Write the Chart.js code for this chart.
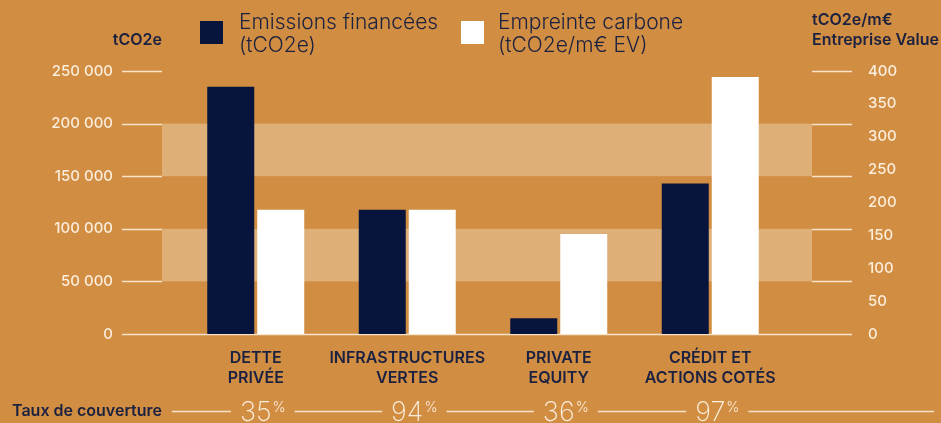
<!DOCTYPE html>
<html>
<head>
<meta charset="utf-8">
<script src="https://cdn.jsdelivr.net/npm/chart.js"></script>
<style>
  html, body { margin: 0; padding: 0; background: #D18D41; }
  canvas { display: block; }
</style>
</head>
<body>
<canvas id="myChart" width="941" height="423"></canvas>
<script>
// categories (two lines each)
const categories = [['DETTE', 'PRIVÉE'], ['INFRASTRUCTURES', 'VERTES'], ['PRIVATE', 'EQUITY'], ['CRÉDIT ET', 'ACTIONS COTÉS']]
// financed emissions, tCO2e (left axis)
const emissions = [235000, 118000, 15000, 143000]
// carbon footprint, tCO2e/m€ EV (right axis)
const footprint = [189, 189, 152, 391]
// coverage rate, %
const coverage = [35, 94, 36, 97]

const emissionsLegend = ['Emissions financées', '(tCO2e)']
const footprintLegend = ['Empreinte carbone', '(tCO2e/m€ EV)']
const leftTitle = ['tCO2e']
const rightTitle = ['tCO2e/m€', 'Entreprise Value']
const coverageTitle = 'Taux de couverture'

const leftMax = 250000
const leftStep = 50000
const rightMax = 400
const rightStep = 50

const band = '#DFAF78'
const navy = '#07153D'
const textNavy = '#1B2140'
const lineCol = '#F6E4CC'
const tickCol = '#FBEEDD'

function spaced(v) {
    return String(v).replace(/\B(?=(\d{3})+(?!\d))/g, ' ')
}

// tick padding is huge here, don't let it push the chart area in
function noVertPadding(scale) {
    scale.paddingTop = 0
    scale.paddingBottom = 0
}

const decor = {
    id: 'decor',
    beforeDatasetsDraw(chart) {
        const { ctx, chartArea, scales } = chart
        const y = scales.y
        const bandL = chartArea.left - 18, bandR = chartArea.right + 26
        const lineL = chartArea.left - 58, lineR = chartArea.right + 66
        ctx.save()
        // alternating light bands between left ticks
        ctx.fillStyle = band
        const ticks = y.ticks.map(t => t.value).sort((a, b) => a - b)
        for (let i = 1; i < ticks.length - 1; i += 2) {
            const top = y.getPixelForValue(ticks[i + 1])
            const bot = y.getPixelForValue(ticks[i])
            ctx.fillRect(bandL, top, bandR - bandL, bot - top)
        }
        // short tick lines on both sides
        ctx.strokeStyle = lineCol
        ctx.lineWidth = 1.5
        ticks.forEach(v => {
            const py = Math.round(y.getPixelForValue(v)) + 0.5
            ctx.beginPath()
            if (v === 0) {
                ctx.moveTo(lineL, py); ctx.lineTo(lineR, py)
            } else {
                ctx.moveTo(lineL, py); ctx.lineTo(bandL, py)
                ctx.moveTo(bandR, py); ctx.lineTo(lineR, py)
            }
            ctx.stroke()
        })
        ctx.restore()
    },
    afterDraw(chart) {
        const { ctx, chartArea, scales } = chart
        const x = scales.x
        ctx.save()

        // legend
        const legends = [
            { lines: emissionsLegend, color: chart.data.datasets[0].backgroundColor, bx: 200, tx: 239 },
            { lines: footprintLegend, color: chart.data.datasets[1].backgroundColor, bx: 461, tx: 498 }
        ]
        legends.forEach(l => {
            ctx.fillStyle = l.color
            ctx.fillRect(l.bx, 21, 23, 23)
            ctx.fillStyle = textNavy
            ctx.font = '300 21px Inter'
            ctx.textAlign = 'left'
            ctx.textBaseline = 'alphabetic'
            l.lines.forEach((s, i) => ctx.fillText(s, l.tx, 29 + i * 23))
        })

        // axis titles
        ctx.font = '600 16px Inter'
        ctx.fillStyle = textNavy
        ctx.textBaseline = 'middle'
        ctx.textAlign = 'right'
        leftTitle.forEach((s, i) => ctx.fillText(s, chartArea.left - 18, 40 + i * 20))
        ctx.textAlign = 'left'
        rightTitle.forEach((s, i) => ctx.fillText(s, chartArea.right + 26, 20 + i * 20))

        // coverage row
        const rowY = 411
        ctx.fillText(coverageTitle, 12, rowY)
        const gaps = []
        coverage.forEach((c, i) => {
            const cx = x.getPixelForValue(i)
            ctx.font = '200 27px Inter'
            ctx.textBaseline = 'alphabetic'
            const num = String(c)
            const nw = ctx.measureText(num).width
            ctx.fillStyle = tickCol
            ctx.textAlign = 'left'
            ctx.fillText(num, cx - nw / 2, 421)
            ctx.font = '300 14px Inter'
            const pw = ctx.measureText('%').width
            ctx.fillText('%', cx + nw / 2 + 1, 412)
            gaps.push([cx - nw / 2 - 9, cx + nw / 2 + pw + 10])
        })
        ctx.strokeStyle = lineCol
        ctx.lineWidth = 1.5
        let start = 172
        gaps.forEach(g => {
            ctx.beginPath()
            ctx.moveTo(start, rowY + 0.5); ctx.lineTo(g[0], rowY + 0.5)
            ctx.stroke()
            start = g[1]
        })
        ctx.beginPath()
        ctx.moveTo(start, rowY + 0.5); ctx.lineTo(934, rowY + 0.5)
        ctx.stroke()

        ctx.restore()
    }
}

const ctx = document.getElementById('myChart')
new Chart(ctx, {
    type: 'bar',
    data: {
        labels: categories,
        datasets: [{
            label: emissionsLegend.join(' '),
            data: emissions,
            backgroundColor: navy,
            yAxisID: 'y',
            categoryPercentage: 0.66,
            barPercentage: 0.94
        }, {
            label: footprintLegend.join(' '),
            data: footprint,
            backgroundColor: '#FFFFFF',
            yAxisID: 'y1',
            categoryPercentage: 0.66,
            barPercentage: 0.94
        }]
    },
    options: {
        responsive: false,
        animation: false,
        layout: { padding: { top: 71, left: 0, right: 0, bottom: 0 } },
        plugins: {
            legend: { display: false },
            tooltip: { enabled: false }
        },
        scales: {
            x: {
                grid: { display: false, drawTicks: false },
                border: { display: false },
                ticks: {
                    color: textNavy,
                    font: { family: 'Inter', size: 16, weight: '600', lineHeight: 1.2 },
                    padding: 15,
                    maxRotation: 0,
                    autoSkip: false
                },
                afterFit(scale) { scale.height = 89 }
            },
            y: {
                position: 'left',
                min: 0,
                max: leftMax,
                grid: { display: false, drawTicks: false },
                border: { display: false },
                ticks: {
                    stepSize: leftStep,
                    color: tickCol,
                    font: { family: 'Inter', size: 15, weight: '500' },
                    padding: 67,
                    callback: v => spaced(v)
                },
                afterFit(scale) { scale.width = 180; noVertPadding(scale) }
            },
            y1: {
                position: 'right',
                min: 0,
                max: rightMax,
                grid: { display: false, drawTicks: false },
                border: { display: false },
                ticks: {
                    stepSize: rightStep,
                    color: tickCol,
                    font: { family: 'Inter', size: 15, weight: '500' },
                    padding: 82
                },
                afterFit(scale) { scale.width = 155; noVertPadding(scale) }
            }
        }
    },
    plugins: [decor]
})
</script>
</body>
</html>
